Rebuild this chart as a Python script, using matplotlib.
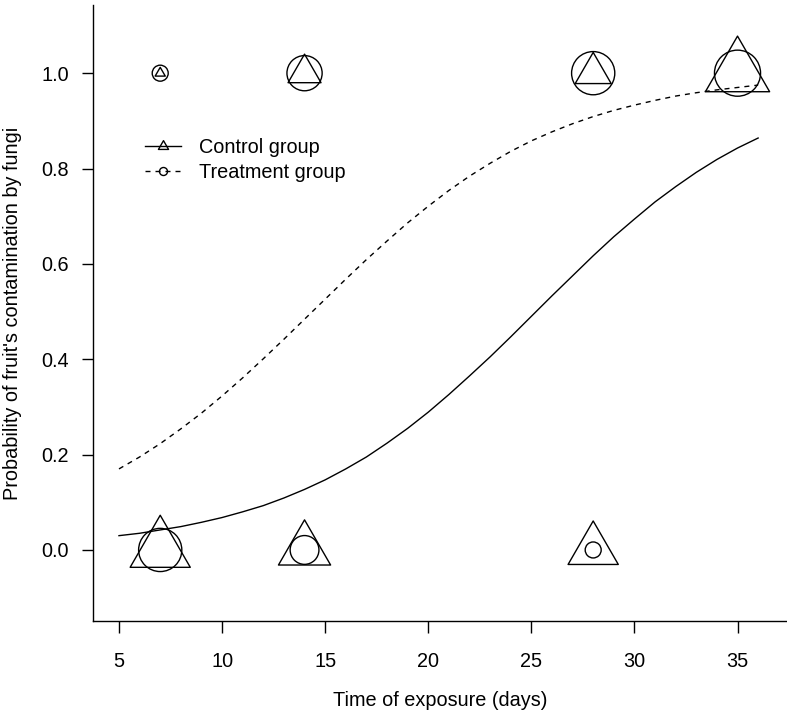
import matplotlib
matplotlib.use("Agg")
import matplotlib.pyplot as plt
import numpy as np
from matplotlib.lines import Line2D
from matplotlib.path import Path

plt.rcParams["font.family"] = ["Liberation Sans", "DejaVu Sans"]
plt.rcParams["font.size"] = 14.3

# observed outcomes: contaminated (1) / not contaminated (0), marker cex ~ number of fruits
days_1 = [7, 14, 28, 35]
ctrl_cex_1 = [0.47, 1.53, 1.67, 2.98]
trt_cex_1 = [1.0, 2.2, 2.7, 2.88]
days_0 = [7, 14, 28]
ctrl_cex_0 = [2.79, 2.42, 2.33]
trt_cex_0 = [2.7, 1.8, 1.0]

# fitted probability curves
curve_days = list(range(5, 37))
ctrl_prob = [0.030, 0.035, 0.042, 0.049, 0.058, 0.068, 0.080, 0.093,
             0.109, 0.127, 0.147, 0.170, 0.195, 0.224, 0.255, 0.289,
             0.326, 0.365, 0.405, 0.447, 0.490, 0.533, 0.575, 0.617,
             0.657, 0.694, 0.730, 0.762, 0.792, 0.819, 0.843, 0.864]
trt_prob = [0.170, 0.195, 0.223, 0.254, 0.287, 0.323, 0.361, 0.401,
            0.442, 0.484, 0.526, 0.568, 0.609, 0.648, 0.686, 0.721,
            0.754, 0.784, 0.811, 0.836, 0.858, 0.877, 0.894, 0.909,
            0.922, 0.933, 0.943, 0.952, 0.959, 0.965, 0.970, 0.975]

x_ticks = [5, 10, 15, 20, 25, 30, 35]
y_ticks = [0.0, 0.2, 0.4, 0.6, 0.8, 1.0]

# R-style pch=2: equilateral triangle centred on its centroid
tri = Path([(0, 1), (-np.sqrt(3) / 2, -0.5), (np.sqrt(3) / 2, -0.5), (0, 1)],
           [Path.MOVETO, Path.LINETO, Path.LINETO, Path.CLOSEPOLY])

CIRC_PT = 16 * 0.72                  # circle diameter (pt) for cex 1
TRI_PT = 16 * 1.347 * 0.72 / 0.866   # triangle marker size (pt) for cex 1


def circ_s(cex):
    return (np.asarray(cex) * CIRC_PT) ** 2


def tri_s(cex):
    return (np.asarray(cex) * TRI_PT) ** 2


fig = plt.figure(figsize=(7.87, 7.19), dpi=100)
ax = fig.add_axes([93 / 787, 1 - 621 / 719, 1 - 93 / 787, 616 / 719])

ax.plot(curve_days, ctrl_prob, color="black", lw=1.0)
ax.plot(curve_days, trt_prob, color="black", lw=1.0, dashes=(3.6, 3.6))

kw = dict(facecolors="none", edgecolors="black", linewidths=1.0, clip_on=False)
ax.scatter(days_1, [1] * len(days_1), s=tri_s(ctrl_cex_1), marker=tri, **kw)
ax.scatter(days_0, [0] * len(days_0), s=tri_s(ctrl_cex_0), marker=tri, **kw)
ax.scatter(days_1, [1] * len(days_1), s=circ_s(trt_cex_1), marker="o", **kw)
ax.scatter(days_0, [0] * len(days_0), s=circ_s(trt_cex_0), marker="o", **kw)

ax.set_xlim(3.74, 37.4)
ax.set_ylim(-0.149, 1.143)
ax.set_xticks(x_ticks)
ax.set_yticks(y_ticks)
ax.set_yticklabels([f"{v:.1f}" for v in y_ticks])
ax.tick_params(axis="x", length=8.5, width=1.0, pad=13.5)
ax.tick_params(axis="y", length=8, width=1.0, pad=9.5)
for side in ["top", "right"]:
    ax.spines[side].set_visible(False)
for side in ["left", "bottom"]:
    ax.spines[side].set_linewidth(1.0)

ax.set_xlabel("Time of exposure (days)", labelpad=14.5)
ax.set_ylabel("Probability of fruit's contamination by fungi", labelpad=14)

handles = [
    Line2D([], [], color="black", lw=1.0, marker=tri, ms=0.47 * TRI_PT,
           mfc="none", mec="black", mew=1.0),
    Line2D([], [], color="black", lw=1.0, dashes=(3.6, 3.6), marker="o",
           ms=0.5 * CIRC_PT, mfc="none", mec="black", mew=1.0),
]
ax.legend(handles, ["Control group", "Treatment group"], loc="upper left",
          bbox_to_anchor=((145 - 93) / 694, (621 - 138) / 616), frameon=False,
          borderpad=0, borderaxespad=0, handlelength=1.81, handletextpad=0.9,
          labelspacing=0.3)

fig.savefig("out.png", dpi=100)
